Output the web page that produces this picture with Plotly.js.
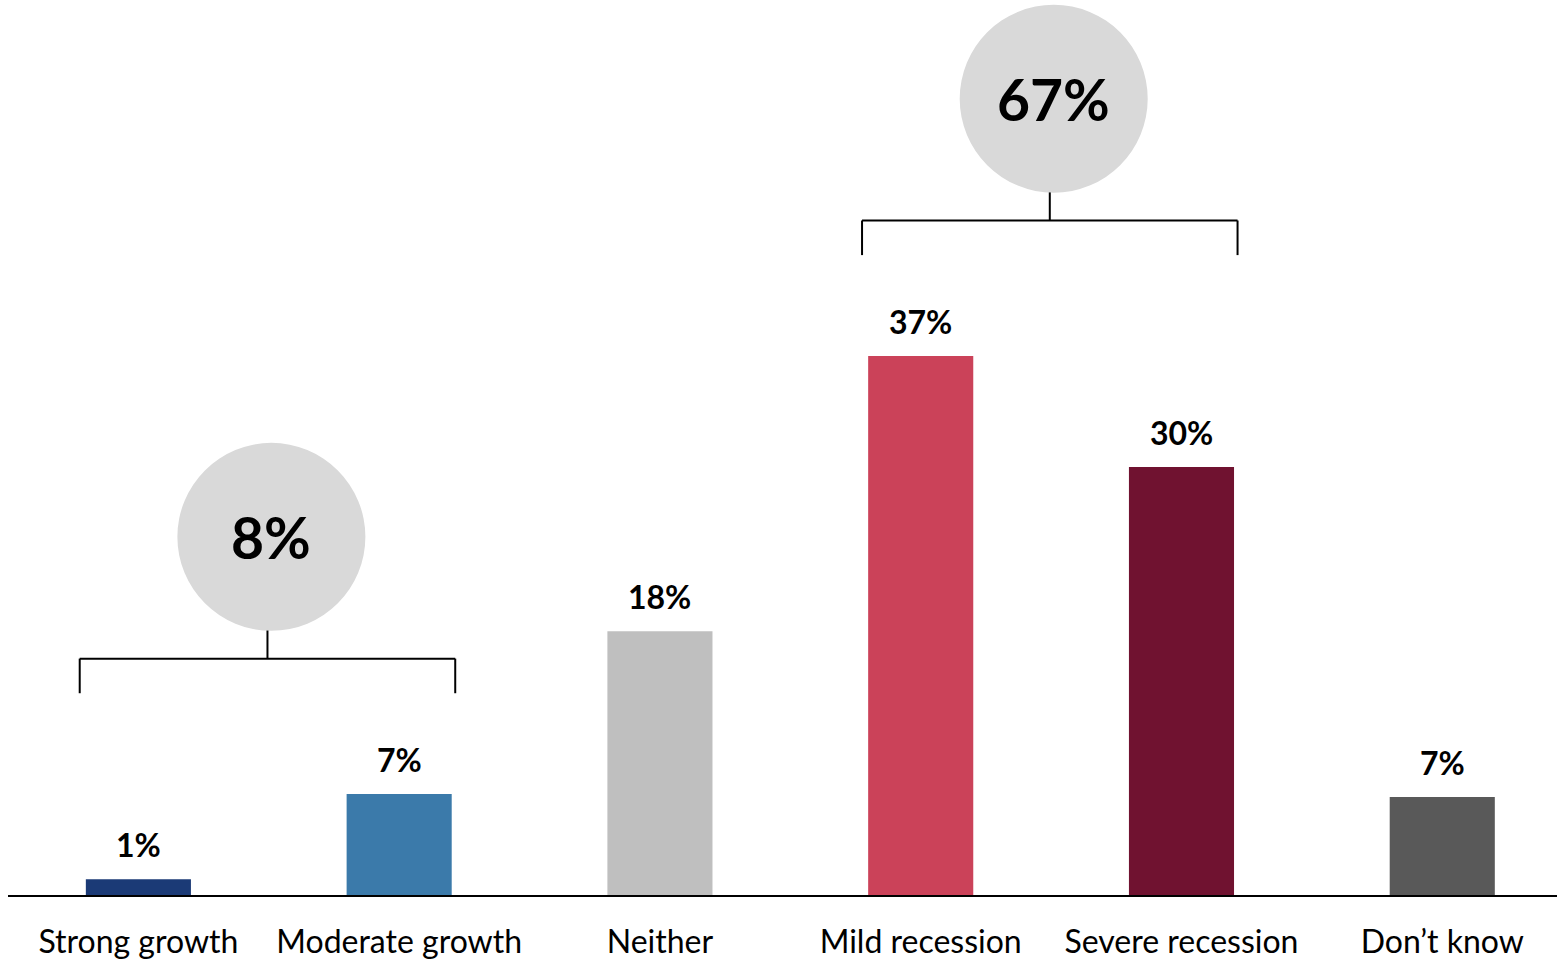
<!DOCTYPE html>
<html>
<head>
<meta charset="utf-8">
<script src="https://cdn.plot.ly/plotly-3.0.1.min.js"></script>
<style>html,body{margin:0;padding:0;background:#fff;}#chart{width:1557px;height:959px;}</style>
</head>
<body>
<div id="chart"></div>
<script>
// Data
const categories = ["Strong growth", "Moderate growth", "Neither", "Mild recession", "Severe recession", "Don\u2019t know"];
const values = [1.1, 7.0, 18.3, 37.4, 29.7, 6.8];
const valueLabels = ["1%", "7%", "18%", "37%", "30%", "7%"];
const barColors = ["#1b3a76", "#3b7aaa", "#bfbfbf", "#cb4259", "#701230", "#595959"];
const groupFrom = [0, 3];
const groupTo = [1, 4];
const groupLabels = ["8%", "67%"];

const FONT = "Lato, 'Open Sans', sans-serif";

const trace = {
  type: "bar",
  x: categories,
  y: values,
  marker: {color: barColors},
  hoverinfo: "skip"
};

const annotations = [];
const shapes = [];

categories.forEach((c, i) => {
  annotations.push({
    x: c, y: values[i], xref: "x", yref: "y",
    text: "<b>" + valueLabels[i] + "</b>",
    showarrow: false, yanchor: "bottom", yshift: 13,
    font: {family: FONT, size: 32, color: "#000"}
  });
});

groupFrom.forEach((f, g) => {
  const t = groupTo[g];
  let m = 0;
  for (let k = f; k <= t; k++) m = Math.max(m, values[k]);
  const bottom = m + 7.0;
  const horiz = bottom + 2.4;
  const stemTop = horiz + 1.95;
  const left = f - 0.225, right = t + 0.215;
  const mid = (left + right) / 2;
  const center = stemTop + 6.5;
  const line = {color: "#000", width: 2};
  shapes.push({type: "line", xref: "x", yref: "y", x0: left, x1: left, y0: bottom, y1: horiz, line});
  shapes.push({type: "line", xref: "x", yref: "y", x0: right, x1: right, y0: bottom, y1: horiz, line});
  shapes.push({type: "line", xref: "x", yref: "y", x0: left, x1: right, y0: horiz, y1: horiz, line});
  shapes.push({type: "line", xref: "x", yref: "y", x0: mid, x1: mid, y0: horiz, y1: stemTop, line});
  shapes.push({
    type: "circle", xref: "x", yref: "y",
    xsizemode: "pixel", ysizemode: "pixel",
    xanchor: mid + 0.015, yanchor: center,
    x0: -94, x1: 94, y0: -94, y1: 94,
    fillcolor: "#d9d9d9", line: {width: 0}, layer: "below"
  });
  annotations.push({
    x: mid + 0.015, y: center, xref: "x", yref: "y",
    text: "<b>" + groupLabels[g] + "</b>",
    showarrow: false, yanchor: "middle",
    font: {family: FONT, size: 57, color: "#000"}
  });
});

const layout = {
  width: 1557, height: 959,
  margin: {l: 8, r: 0, t: 0, b: 64, pad: 0},
  paper_bgcolor: "#fff", plot_bgcolor: "#fff",
  showlegend: false,
  bargap: 0.597,
  xaxis: {
    type: "category",
    range: [-0.5, 5.44],
    showline: true, linecolor: "#000", linewidth: 2,
    showgrid: false, zeroline: false,
    ticks: "outside", ticklen: 18, tickcolor: "rgba(0,0,0,0)",
    tickfont: {family: FONT, size: 32, color: "#000"},
    fixedrange: true
  },
  yaxis: {
    range: [0, 62.1],
    visible: false, showgrid: false, zeroline: false,
    fixedrange: true
  },
  shapes: shapes,
  annotations: annotations,
  font: {family: FONT}
};

Plotly.newPlot("chart", [trace], layout, {displayModeBar: false, staticPlot: true});
</script>
</body>
</html>
